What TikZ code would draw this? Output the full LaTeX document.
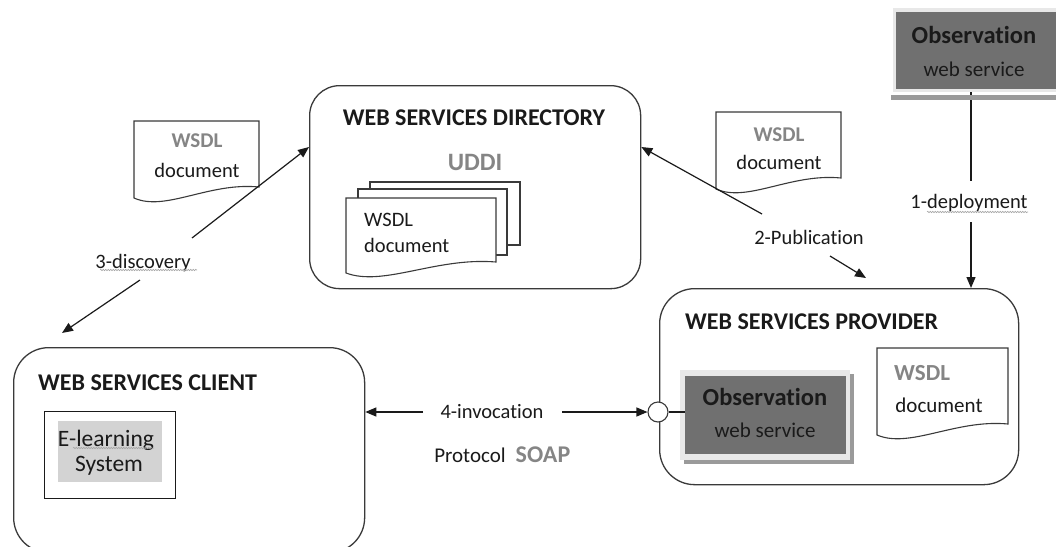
\documentclass[tikz,border=0pt]{standalone}
\usepackage{fontspec}
\setmainfont{Carlito}[Ligatures=NoCommon]
\usetikzlibrary{arrows.meta,decorations.pathmorphing}

\definecolor{ink}{HTML}{1A1A1A}
\definecolor{edge}{HTML}{3A3A3A}
\definecolor{wsdlgray}{HTML}{858585}
\definecolor{servfill}{HTML}{707070}
\definecolor{servrim}{HTML}{E8E8E8}
\definecolor{servshade}{HTML}{9A9A9A}
\definecolor{elfill}{HTML}{D3D3D3}

\newcommand\fs[1]{\fontsize{#1}{#1}\selectfont}
% sheet with a wavy lower edge: left, top, right, bottom
\newcommand\sheet[4]{%
  \draw[sheetline] (#1,#2) -- (#3,#2) -- (#3,{#4-11})
    .. controls ({#1+0.6*(#3-#1)},{#4-16}) and ({#1+0.25*(#3-#1)},{#4+14}) .. (#1,#4) -- cycle;}

\begin{document}
\begin{tikzpicture}[x=1pt,y=-1pt,
  panel/.style={draw=edge,line width=1.3pt,rounded corners=30pt,anchor=north west,inner sep=0pt},
  txt/.style={inner sep=1pt,text=ink},
  title/.style={txt,font=\bfseries\fs{24}},
  lbl/.style={txt,font=\fs{20.5}},
  gbold/.style={txt,font=\bfseries\fs{21},text=wsdlgray},
  arr/.style={line width=1.2pt,draw=ink,-{Triangle[length=11pt,width=9pt]}},
  link/.style={line width=1.2pt,draw=ink},
  sheetline/.style={draw=edge,line width=1.1pt,fill=white},
  squig/.style={draw=gray!70,line width=0.6pt,decorate,
    decoration={snake,amplitude=0.7pt,segment length=2.5pt}}]
\useasboundingbox (0,0) rectangle (1056,546);
\clip (0,0) rectangle (1056,546);

% ---------- directory ----------
\node[panel,minimum width=331,minimum height=203] (dir) at (309,85) {};
\node[title] (dirT) at (474,118) {WEB SERVICES DIRECTORY};
\node[gbold,font=\bfseries\fs{25}] (uddi) at (475,162) {UDDI};
\draw[sheetline] (370,182) rectangle (520,245);
\draw[sheetline] (358,189) rectangle (507,255);
\sheet{346}{198}{496}{273}
\node[lbl,anchor=west] (dirW) at (363,220) {WSDL};
\node[lbl,anchor=west] (dirD) at (363,245) {document};

% ---------- loose WSDL sheets ----------
\sheet{134}{121}{259}{198}
\node[gbold] (wsL) at (197,141) {WSDL};
\node[lbl] (docL) at (197,170) {document};

\sheet{716}{112}{841}{189}
\node[gbold] (wsR) at (779,135) {WSDL};
\node[lbl] (docR) at (779,162) {document};

% ---------- deployed service (top right) ----------
\coordinate (depA) at (971,92);
\coordinate (depB) at (971,181);
\coordinate (depC) at (971,222);
\draw[link] (depA) -- (depB);
\fill[servshade] (891,95) rectangle (1060,100);
\fill[servrim] (893,8) rectangle (1060,92);
\node[fill=servfill,anchor=north west,minimum width=170,minimum height=77,inner sep=0] (obs) at (896,12) {};
\node[txt,font=\bfseries\fs{24.5}] (obsN) at (974,35) {Observation};
\node[txt,font=\fs{21}] (obsS) at (974,69) {web service};

% ---------- provider ----------
\node[panel,rounded corners=35pt,minimum width=359,minimum height=196] (prov) at (659,288) {};
\node[title,anchor=west] (provT) at (684,322) {WEB SERVICES PROVIDER};
\sheet{877}{348}{1008}{435}
\node[gbold,font=\bfseries\fs{23},anchor=west] (wsP) at (893,373) {WSDL};
\node[lbl,font=\fs{21}] (docP) at (939,405) {document};
\fill[servshade] (684,374) rectangle (854,464);
\fill[servrim] (680,370) rectangle (850,460);
\node[fill=servfill,anchor=north west,minimum width=161,minimum height=78,inner sep=0] (svc) at (685,376) {};
\node[txt,font=\bfseries\fs{24.5}] (svcN) at (765,397) {Observation};
\node[txt,font=\fs{21}] (svcS) at (765,430) {web service};
\node[circle,draw=edge,fill=white,line width=1.1pt,minimum size=20,inner sep=0] (port) at (658,412) {};
\draw[link] (port.east) -- (svc.west |- port);

% ---------- client ----------
\node[panel,rounded corners=35pt,minimum width=351,minimum height=205] (cli) at (13,347) {};
\node[title,anchor=west] (cliT) at (37,383) {WEB SERVICES CLIENT};
\node[draw=ink,line width=1.1pt,anchor=north west,minimum width=131,minimum height=87,inner sep=0] (elbox) at (44,411) {};
\node[fill=elfill,anchor=north west,minimum width=104,minimum height=61,inner sep=0] (elbg) at (58,421) {};
\node[lbl,font=\fs{23.5}] (el1) at (106,440) {E-learning};
\node[lbl,font=\fs{23.5}] (el2) at (109,466) {System};

% ---------- interactions ----------
\node[lbl] (dep) at (969,203) {1-deployment};
\draw[arr] (depC) -- (prov.north -| depC);

\node[lbl] (pub) at (809,237) {2-Publication};
\coordinate (pubA) at (762,214);
\coordinate (pubB) at (830,256);
\draw[arr] (pubA) -- (dir.east |- 0,147);
\draw[arr] (pubB) -- (866,278);

\node[lbl] (disc) at (143,263) {3-discovery};
\coordinate (discA) at (192,238);
\coordinate (discB) at (140,280);
\draw[arr] (discA) -- (dir.west |- 0,147);
\draw[arr] (discB) -- (62,333);

\node[lbl] (inv) at (492,412) {4-invocation};
\coordinate (invA) at (423,412);
\coordinate (invB) at (562,412);
\draw[arr] (invA) -- (cli.east |- inv);
\draw[arr] (invB) -- (port.west);
\node[lbl,font=\fs{21}] (proto) at (470,455) {Protocol};
\node[gbold,font=\bfseries\fs{24}] (soap) at (543,455) {SOAP};

% spelling marks under some words
\draw[squig] (100,270) -- (197,270);
\draw[squig] (927,212) -- (1028,212);
\draw[squig] (73,448) -- (154,448);
\end{tikzpicture}
\end{document}
